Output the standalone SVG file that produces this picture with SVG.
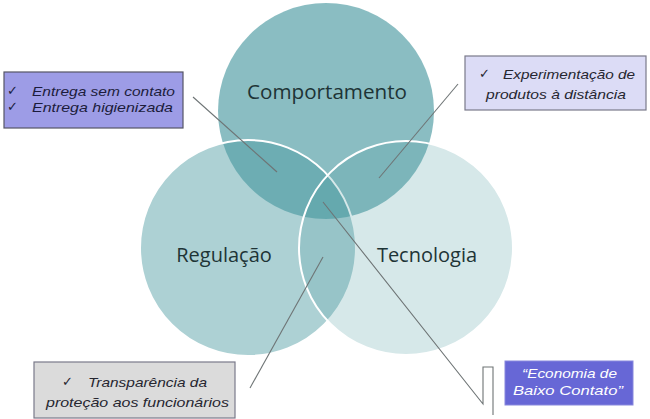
<svg xmlns="http://www.w3.org/2000/svg" width="650" height="419" viewBox="0 0 650 419">
<style>
.circ{stroke:#ffffff;stroke-width:2}
.lbl{font-family:"Open Sans","Noto Sans",sans-serif;font-size:20px;fill:#1e3436;text-anchor:middle}
.bt{font-family:"Liberation Sans",Arial,sans-serif;font-style:italic;font-size:13px;fill:#262630}
.ck{font-family:"DejaVu Sans",sans-serif;font-size:13px;fill:#262630}
.box{stroke:#7a7a8a;stroke-width:1.2}
.conn{fill:none;stroke:#6e7475;stroke-width:1.1}
</style>
<rect width="650" height="419" fill="#ffffff"/>
<g id="comportamento">
<circle cx="326" cy="111" r="108" fill="#4c9aa1" fill-opacity="0.65"/>
</g>
<g id="regulacao">
<circle class="circ" cx="248" cy="248" r="108" fill="#4c9aa1" fill-opacity="0.46"/>
</g>
<g id="tecnologia">
<circle class="circ" cx="406" cy="248" r="107" fill="#4c9aa1" fill-opacity="0.23"/>
</g>
<text class="lbl" x="327" y="99" textLength="160" lengthAdjust="spacingAndGlyphs">Comportamento</text>
<text class="lbl" x="224" y="262">Regulação</text>
<text class="lbl" x="427" y="262">Tecnologia</text>
<g id="connectors">
<line class="conn" x1="193" y1="97" x2="277" y2="172"/>
<line class="conn" x1="458" y1="84" x2="379" y2="178"/>
<line class="conn" x1="323" y1="257" x2="250" y2="388"/>
<polyline class="conn" points="323,202 483,404 483,367 493,367 493,415" stroke="#7a7f80"/>
</g>
<g id="box-entrega">
<rect x="4" y="72" width="179" height="56" fill="#9d9ce6" stroke="#555566" stroke-width="1.2"/>
<text class="ck" x="7" y="95" style="fill:#1c1c3c">✓</text>
<text class="bt" x="32" y="96" textLength="143" lengthAdjust="spacingAndGlyphs" style="fill:#1c1c3c">Entrega sem contato</text>
<text class="ck" x="7" y="111" style="fill:#1c1c3c">✓</text>
<text class="bt" x="32" y="112" textLength="141" lengthAdjust="spacingAndGlyphs" style="fill:#1c1c3c">Entrega higienizada</text>
</g>
<g id="box-experimentacao">
<rect x="465" y="56" width="181" height="54" fill="#dcdcf6" class="box"/>
<text class="ck" x="479" y="78">✓</text>
<text class="bt" x="503" y="79" textLength="132" lengthAdjust="spacingAndGlyphs">Experimentação de</text>
<text class="bt" x="486" y="99" textLength="140" lengthAdjust="spacingAndGlyphs">produtos à distância</text>
</g>
<g id="box-transparencia">
<rect x="34" y="362" width="201" height="56" fill="#dbdbdb" class="box"/>
<text class="ck" x="62" y="386">✓</text>
<text class="bt" x="88" y="387" textLength="119" lengthAdjust="spacingAndGlyphs">Transparência da</text>
<text class="bt" x="46" y="407" textLength="183" lengthAdjust="spacingAndGlyphs">proteção aos funcionários</text>
</g>
<g id="box-economia">
<rect x="505" y="361" width="128" height="44" fill="#6767d6" stroke="#8888dd" stroke-width="1"/>
<text class="bt" x="522" y="378" textLength="95" lengthAdjust="spacingAndGlyphs" style="fill:#ffffff">“Economia de</text>
<text class="bt" x="513" y="395" textLength="110" lengthAdjust="spacingAndGlyphs" style="fill:#ffffff">Baixo Contato”</text>
</g>
</svg>
